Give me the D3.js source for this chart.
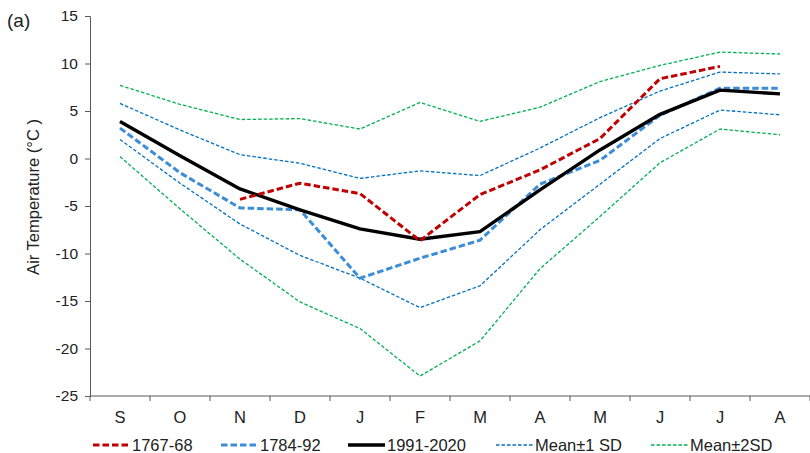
<!DOCTYPE html>
<html>
<head>
<meta charset="utf-8">
<script src="https://cdn.jsdelivr.net/npm/d3@7"></script>
<style>
  body { margin: 0; background: #fff; }
  svg text { font-family: "Liberation Sans", Arial, sans-serif; fill: #222; }
</style>
</head>
<body>
<svg id="chart" width="810" height="453"></svg>
<script>
const months = ["S", "O", "N", "D", "J", "F", "M", "A", "M", "J", "J", "A"];
const yTicks = [15, 10, 5, 0, -5, -10, -15, -20, -25];

// mean +/- SD envelopes
const plus2sd = [7.7, 5.7, 4.1, 4.2, 3.1, 5.9, 3.9, 5.4, 8.1, 9.8, 11.2, 11.0];
const plus1sd = [5.8, 3.0, 0.4, -0.5, -2.1, -1.3, -1.8, 1.1, 4.3, 7.1, 9.1, 8.9];
const minus1sd = [2.0, -2.6, -6.9, -10.2, -12.6, -15.7, -13.4, -7.5, -2.7, 2.1, 5.1, 4.6];
const minus2sd = [0.2, -5.3, -10.6, -15.1, -17.9, -22.9, -19.2, -11.6, -6.1, -0.45, 3.1, 2.5];

const s1991 = [3.9, 0.3, -3.2, -5.4, -7.4, -8.5, -7.7, -3.3, 0.9, 4.65, 7.2, 6.8];
const s1784 = [3.2, -1.5, -5.2, -5.4, -12.6, -10.5, -8.6, -2.7, -0.2, 4.55, 7.4, 7.4];
const s1767 = [null, null, -4.3, -2.6, -3.7, -8.65, -3.8, -1.2, 2.1, 8.4, 9.7, null];

const series = [
  { name: "Mean±2SD", values: plus2sd, color: "#00B050", width: 1.3, dash: "3.5,2", legend: false },
  { name: "Mean±2SD", values: minus2sd, color: "#00B050", width: 1.3, dash: "3.5,2", legend: true },
  { name: "Mean±1 SD", values: plus1sd, color: "#0070C0", width: 1.3, dash: "3.5,2", legend: false },
  { name: "Mean±1 SD", values: minus1sd, color: "#0070C0", width: 1.3, dash: "3.5,2", legend: true },
  { name: "1784-92", values: s1784, color: "#3A8DD6", width: 3, dash: "6.5,3", legend: true },
  { name: "1991-2020", values: s1991, color: "#000000", width: 3.4, dash: null, legend: true },
  { name: "1767-68", values: s1767, color: "#C00000", width: 3, dash: "6.5,3", legend: true }
];
const legendOrder = ["1767-68", "1784-92", "1991-2020", "Mean±1 SD", "Mean±2SD"];
const legendX = [93, 221, 348, 496, 651];

const margin = { left: 90, right: 0, top: 16, bottom: 57 };
const W = 810, H = 453;
const svg = d3.select("#chart");

const x = d3.scaleBand().domain(d3.range(months.length)).range([margin.left, W - margin.right]);
const y = d3.scaleLinear().domain([-25, 15]).range([H - margin.bottom, margin.top]);

// y axis (plain hyphen minus like the original)
const yAxis = svg.append("g")
  .attr("transform", `translate(${margin.left},0)`)
  .call(d3.axisLeft(y).tickValues(yTicks).tickFormat(d => String(d)).tickSize(5).tickPadding(7));
yAxis.select(".domain").attr("stroke", "#595959");
yAxis.selectAll(".tick line").attr("stroke", "#595959");
yAxis.selectAll("text").style("font-size", "15.5px").attr("fill", "#222");

// x axis: ticks on band boundaries
const xAxis = svg.append("g")
  .attr("transform", `translate(0,${y(-25)})`);
xAxis.append("line")
  .attr("x1", margin.left).attr("x2", W - margin.right)
  .attr("stroke", "#595959");
xAxis.selectAll(".xt")
  .data(d3.range(months.length + 1))
  .enter().append("line")
  .attr("x1", i => margin.left + i * x.step())
  .attr("x2", i => margin.left + i * x.step())
  .attr("y1", 0).attr("y2", 5)
  .attr("stroke", "#595959");
xAxis.selectAll(".xl")
  .data(months)
  .enter().append("text")
  .attr("x", (d, i) => x(i) + x.bandwidth() / 2)
  .attr("y", 21)
  .attr("dy", "0.35em")
  .attr("text-anchor", "middle")
  .style("font-size", "16.5px")
  .text(d => d);

// y axis title
svg.append("text")
  .attr("transform", `translate(33,197) rotate(-90)`)
  .attr("text-anchor", "middle")
  .attr("dy", "0.35em")
  .style("font-size", "16.5px")
  .text("Air Temperature (°C )");

svg.append("text")
  .attr("x", 7).attr("y", 20).attr("dy", "0.35em")
  .style("font-size", "19px")
  .text("(a)");

const line = d3.line()
  .defined(d => d != null)
  .x((d, i) => x(i) + x.bandwidth() / 2)
  .y(d => y(d));

series.forEach(s => {
  svg.append("path")
    .datum(s.values)
    .attr("d", line)
    .attr("fill", "none")
    .attr("stroke", s.color)
    .attr("stroke-width", s.width)
    .attr("stroke-dasharray", s.dash)
    .attr("stroke-linejoin", "round");
});

// legend
const legend = svg.append("g").attr("transform", "translate(0,445)");
legendOrder.forEach((name, i) => {
  const s = series.find(d => d.name === name && d.legend);
  const g = legend.append("g").attr("transform", `translate(${legendX[i]},0)`);
  g.append("line")
    .attr("x1", 0).attr("x2", 37)
    .attr("stroke", s.color)
    .attr("stroke-width", s.width)
    .attr("stroke-dasharray", s.dash);
  g.append("text")
    .attr("x", 39).attr("dy", "0.35em")
    .style("font-size", "16.5px")
    .text(name);
});
</script>
</body>
</html>
